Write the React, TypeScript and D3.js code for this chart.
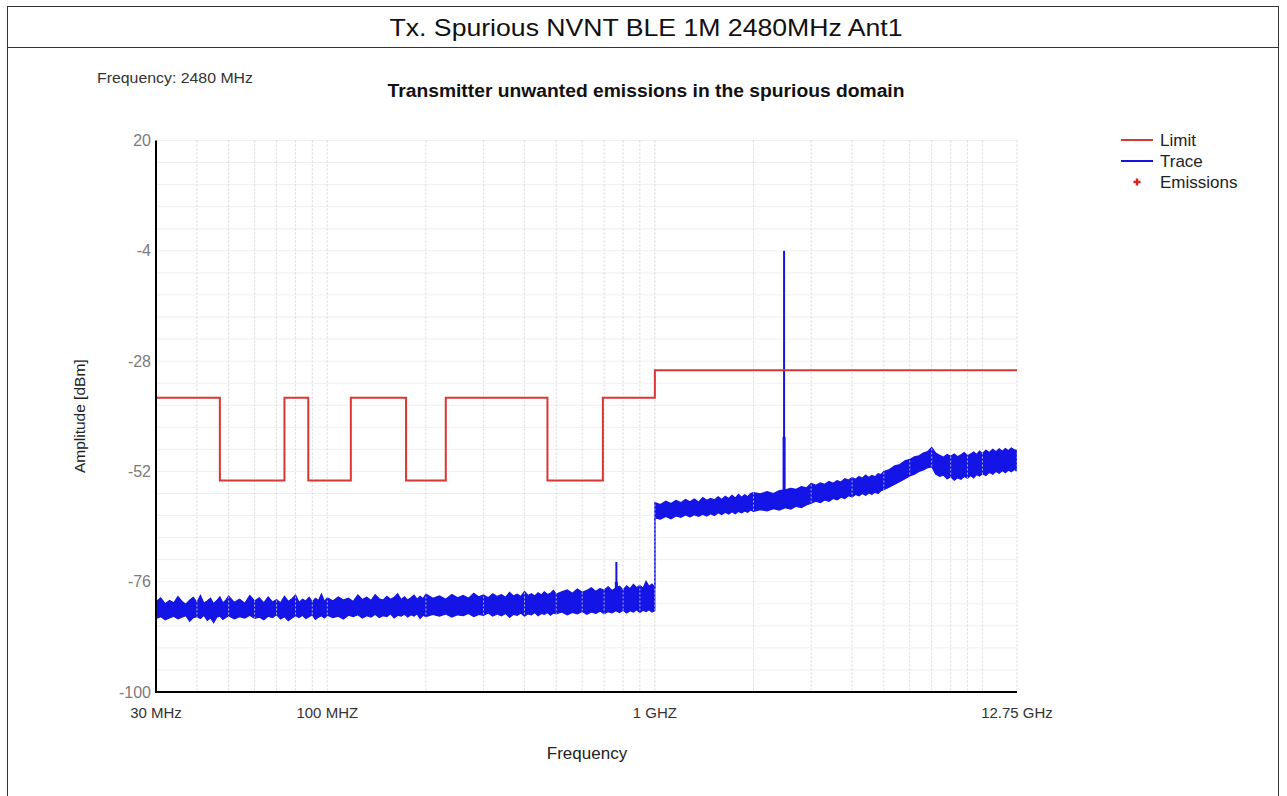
import React from 'react';
import * as d3 from 'd3';

const W = 1287;
const H = 796;

const pageTitle = 'Tx. Spurious NVNT BLE 1M 2480MHz Ant1';
const chartTitle = 'Transmitter unwanted emissions in the spurious domain';
const freqNote = 'Frequency: 2480 MHz';
const yAxisTitle = 'Amplitude [dBm]';
const xAxisTitle = 'Frequency';

const yTickValues = [20, -4, -28, -52, -76, -100];
const xTickValues = [30, 100, 1000, 12750];
const xTickLabels = ['30 MHz', '100 MHZ', '1 GHZ', '12.75 GHz'];
const gridFreqs = [40, 50, 60, 70, 80, 90, 100, 200, 300, 400, 500, 600, 700, 800, 900, 1000,
  2000, 3000, 4000, 5000, 6000, 7000, 8000, 9000, 10000, 12750];

// limit: start MHz, end MHz, level dBm
const limitStart = [30, 47, 74, 87.5, 118, 174, 230, 470, 694, 1000];
const limitEnd = [47, 74, 87.5, 118, 174, 230, 470, 694, 1000, 12750];
const limitLevel = [-36, -54, -36, -54, -36, -54, -36, -54, -36, -30];

// trace envelope: [MHz, min dBm, max dBm]
const lowBandTrace: [number, number, number][] = [
  [30, -84.0, -80.4], [31, -83.6, -79.5], [32, -84.3, -80.8], [33, -83.9, -80.1], [34, -83.5, -80.6],
  [35, -84.1, -79.2], [36, -83.7, -80.3], [37, -83.4, -80.9], [38, -84.6, -80.0], [39, -83.8, -79.4],
  [40, -83.6, -80.5], [41, -84.0, -79.0], [42, -83.3, -80.7], [43, -84.4, -80.2], [44, -83.9, -79.6],
  [45, -84.9, -80.8], [46, -83.7, -80.1], [47, -83.5, -79.3], [48, -84.2, -80.6], [49, -83.8, -80.0],
  [50, -83.4, -79.1], [52, -84.1, -80.5], [54, -83.6, -79.8], [56, -83.9, -80.7], [58, -83.3, -79.0],
  [60, -84.0, -80.2], [62, -83.7, -79.5], [64, -84.3, -80.6], [66, -83.5, -79.3], [68, -83.8, -80.4],
  [70, -83.2, -79.9], [72, -84.1, -80.6], [74, -83.6, -79.2], [76, -84.5, -80.3], [78, -83.9, -79.7],
  [80, -83.4, -78.9], [82, -83.8, -80.5], [84, -83.3, -79.8], [86, -84.0, -80.2], [88, -83.6, -79.4],
  [90, -83.2, -80.4], [92, -84.2, -79.6], [94, -83.7, -80.1], [96, -83.4, -78.7], [98, -83.9, -80.3],
  [100, -83.3, -79.5], [104, -83.8, -80.2], [108, -83.5, -79.3], [112, -84.1, -80.0], [116, -83.3, -79.6],
  [120, -83.6, -80.3], [124, -83.2, -78.9], [128, -83.9, -79.9], [132, -83.4, -79.4], [136, -83.7, -80.1],
  [140, -83.1, -78.8], [144, -83.8, -79.7], [148, -83.4, -80.0], [152, -83.6, -79.2], [156, -83.0, -79.8],
  [160, -83.9, -79.4], [164, -83.3, -78.6], [168, -83.5, -79.9], [172, -83.1, -79.3], [176, -83.7, -80.0],
  [180, -83.2, -79.5], [184, -83.5, -78.9], [188, -83.0, -79.8], [192, -84.0, -79.2], [196, -83.3, -79.7],
  [200, -83.6, -78.7], [210, -83.1, -79.6], [220, -83.5, -79.1], [230, -83.0, -79.8], [240, -83.7, -78.8],
  [250, -83.2, -79.5], [260, -83.4, -79.0], [270, -82.9, -79.6], [280, -83.6, -78.5], [290, -83.1, -79.3],
  [300, -83.3, -78.9], [310, -82.8, -79.5], [320, -83.5, -78.6], [330, -83.0, -79.2], [340, -83.4, -78.8],
  [350, -82.9, -79.4], [360, -83.8, -78.3], [370, -83.1, -79.1], [380, -83.3, -78.7], [390, -82.8, -79.2],
  [400, -83.5, -78.1], [410, -83.0, -79.0], [420, -83.2, -78.6], [430, -82.7, -79.1], [440, -83.4, -78.4],
  [450, -82.9, -78.9], [460, -83.1, -78.2], [470, -82.7, -78.8], [480, -83.3, -78.5], [490, -82.8, -77.9],
  [500, -83.0, -78.7], [520, -82.6, -78.2], [540, -83.2, -77.8], [560, -82.7, -78.5], [580, -83.0, -77.6],
  [600, -82.5, -78.3], [620, -83.1, -77.9], [640, -82.6, -77.3], [660, -82.9, -78.1], [680, -82.4, -77.5],
  [700, -83.0, -77.8], [720, -82.5, -77.1], [740, -82.8, -77.9], [760, -82.3, -77.4], [780, -82.7, -77.0],
  [800, -82.2, -77.8], [820, -82.8, -76.9], [840, -82.3, -77.5], [860, -82.6, -76.6], [880, -82.1, -77.3],
  [900, -82.7, -76.8], [920, -82.2, -77.4], [940, -82.5, -75.9], [960, -82.1, -77.0], [980, -82.6, -76.5],
  [1000, -82.3, -77.2],
];

const highBandTrace: [number, number, number][] = [
  [1000, -62.1, -58.8], [1040, -62.4, -59.2], [1080, -61.8, -58.5], [1120, -62.3, -59.0], [1160, -61.7, -58.3],
  [1200, -62.0, -58.8], [1240, -61.5, -58.1], [1280, -61.9, -58.6], [1320, -61.4, -58.0], [1360, -61.8, -58.7],
  [1400, -61.3, -57.7], [1440, -61.7, -58.3], [1480, -61.2, -57.9], [1520, -61.6, -58.2], [1560, -61.0, -57.5],
  [1600, -61.4, -58.1], [1640, -60.9, -57.4], [1680, -61.3, -57.9], [1720, -60.8, -57.2], [1760, -61.2, -57.8],
  [1800, -60.7, -57.0], [1840, -61.0, -57.6], [1880, -60.6, -57.1], [1920, -60.9, -57.5], [1960, -60.4, -56.8],
  [2000, -60.7, -56.6], [2100, -60.3, -56.9], [2200, -60.6, -56.4], [2300, -60.1, -56.8], [2400, -60.4, -56.2],
  [2500, -59.9, -56.0], [2600, -60.2, -55.7], [2700, -59.6, -55.9], [2800, -59.9, -55.3], [2900, -59.3, -55.6],
  [3000, -58.9, -54.6], [3100, -58.5, -55.0], [3200, -58.8, -54.5], [3300, -58.2, -54.8], [3400, -58.5, -54.2],
  [3500, -57.9, -54.6], [3600, -58.2, -54.0], [3700, -57.6, -54.3], [3800, -57.9, -53.6], [3900, -57.3, -53.9],
  [4000, -57.6, -53.3], [4100, -57.0, -53.7], [4200, -57.3, -53.1], [4300, -56.8, -53.5], [4400, -57.2, -52.8],
  [4500, -56.7, -53.3], [4600, -57.0, -52.9], [4700, -56.5, -53.2], [4800, -56.8, -52.5], [4900, -56.2, -52.7],
  [5000, -56.0, -52.0], [5200, -55.4, -51.6], [5400, -54.8, -50.8], [5600, -54.2, -50.5], [5800, -53.6, -49.7],
  [6000, -53.0, -49.4], [6200, -52.6, -48.8], [6400, -52.0, -48.6], [6600, -51.7, -48.0], [6800, -51.2, -47.7],
  [7000, -51.0, -46.8], [7200, -52.6, -48.0], [7400, -53.1, -48.5], [7600, -52.8, -48.9], [7800, -53.6, -48.3],
  [8000, -53.2, -48.7], [8200, -53.9, -48.2], [8400, -53.4, -48.8], [8600, -53.7, -48.4], [8800, -53.1, -47.9],
  [9000, -53.5, -48.6], [9200, -52.9, -48.2], [9400, -53.4, -47.8], [9600, -52.7, -48.3], [9800, -53.0, -47.6],
  [10000, -52.5, -48.1], [10250, -52.9, -47.4], [10500, -52.2, -47.9], [10750, -52.6, -47.2], [11000, -52.0, -47.7],
  [11250, -52.4, -47.1], [11500, -51.8, -47.6], [11750, -52.3, -47.0], [12000, -51.7, -47.5], [12250, -52.1, -46.9],
  [12500, -51.6, -47.3], [12750, -51.9, -47.4],
];

// narrow spikes: MHz, base dBm, shoulder dBm (wider part), top dBm
const spikeFreq = [763, 2480];
const spikeBase = [-79.0, -57.5];
const spikeShoulder = [-76.0, -44.5];
const spikeTop = [-71.7, -4];

const legendNames = ['Limit', 'Trace', 'Emissions'];
const limitColor = '#d93636';
const traceColor = '#1414e6';

const FONT = '"Liberation Sans", Arial, sans-serif';

export default function App() {
  const x = d3.scaleLog().domain([30, 12750]).range([156, 1017]);
  const y = d3.scaleLinear().domain([-100, 20]).range([692, 140.5]);

  const hGrid = d3.range(20, -100.01, -4.8);

  const limitPts: [number, number][] = [];
  limitStart.forEach((s, i) => {
    limitPts.push([s, limitLevel[i]]);
    limitPts.push([limitEnd[i], limitLevel[i]]);
  });
  const limitLine = d3.line<[number, number]>().x(d => x(d[0])).y(d => y(d[1]));

  const trace = [...lowBandTrace, ...highBandTrace];
  const area = d3.area<[number, number, number]>()
    .x(d => x(d[0])).y0(d => y(d[1])).y1(d => y(d[2]));
  const hiLine = d3.line<[number, number, number]>().x(d => x(d[0])).y(d => y(d[2]));
  const loLine = d3.line<[number, number, number]>().x(d => x(d[0])).y(d => y(d[1]));

  return (
    <svg width={W} height={H} style={{ position: 'absolute', left: 0, top: 0, background: '#fff' }}
      fontFamily={FONT}>
      {/* outer frame */}
      <rect x={7.5} y={6.5} width={1271} height={H + 10} fill="none" stroke="#333" strokeWidth={1} />
      <line x1={7.5} x2={1278.5} y1={47.5} y2={47.5} stroke="#333" strokeWidth={1} />
      <text x={646} y={36} textAnchor="middle" fontSize={24} fill="#111" textLength={513}
        lengthAdjust="spacingAndGlyphs">{pageTitle}</text>

      <text x={97} y={83} fontSize={15} fill="#333" textLength={156} lengthAdjust="spacingAndGlyphs">{freqNote}</text>
      <text x={646} y={97} textAnchor="middle" fontSize={18} fontWeight="bold" fill="#111" textLength={517}
        lengthAdjust="spacingAndGlyphs">{chartTitle}</text>

      {/* horizontal grid */}
      {hGrid.map((v, i) => (
        <line key={'h' + i} x1={x(30)} x2={x(12750)} y1={y(v)} y2={y(v)} stroke="#efefef" strokeWidth={1} />
      ))}

      {/* trace */}
      <path d={area(trace) || ''} fill={traceColor} stroke="none" />
      <path d={hiLine(trace) || ''} fill="none" stroke={traceColor} strokeWidth={1.2} />
      <path d={loLine(trace) || ''} fill="none" stroke={traceColor} strokeWidth={1.2} />
      {spikeFreq.map((f, i) => (
        <g key={'s' + i}>
          <line x1={x(f)} x2={x(f)} y1={y(spikeBase[i])} y2={y(spikeTop[i])}
            stroke={traceColor} strokeWidth={2} />
          <line x1={x(f)} x2={x(f)} y1={y(spikeBase[i])} y2={y(spikeShoulder[i])}
            stroke={traceColor} strokeWidth={3} />
        </g>
      ))}

      {/* vertical grid (drawn over trace) */}
      {gridFreqs.map((f, i) => (
        <line key={'v' + i} x1={x(f)} x2={x(f)} y1={y(20)} y2={y(-100)} stroke="#d2d2da"
          strokeWidth={1} strokeDasharray="2,2" opacity={0.85} />
      ))}

      {/* limit */}
      <path d={limitLine(limitPts) || ''} fill="none" stroke={limitColor} strokeWidth={2} />

      {/* axes */}
      <line x1={x(30)} x2={x(30)} y1={y(20)} y2={y(-100) + 1} stroke="#000" strokeWidth={2} />
      <line x1={x(30) - 1} x2={x(12750)} y1={y(-100)} y2={y(-100)} stroke="#000" strokeWidth={2} />

      {yTickValues.map((v, i) => (
        <text key={'yt' + i} x={151} y={y(v)} dy="0.35em" textAnchor="end" fontSize={16} fill="#7c7c7c">{v}</text>
      ))}
      {xTickValues.map((f, i) => (
        <text key={'xt' + i} x={x(f)} y={718} textAnchor="middle" fontSize={15} fill="#333">{xTickLabels[i]}</text>
      ))}

      <text x={587} y={759} textAnchor="middle" fontSize={17} fill="#222">{xAxisTitle}</text>
      <text transform={`translate(85,${(y(20) + y(-100)) / 2}) rotate(-90)`} textAnchor="middle"
        fontSize={15.5} fill="#222">{yAxisTitle}</text>

      {/* legend */}
      {legendNames.map((n, i) => {
        const ly = 140 + i * 21;
        return (
          <g key={'lg' + i}>
            {i === 0 && <line x1={1121} x2={1153} y1={ly} y2={ly} stroke={limitColor} strokeWidth={2} />}
            {i === 1 && <line x1={1121} x2={1153} y1={ly} y2={ly} stroke={traceColor} strokeWidth={2} />}
            {i === 2 && (
              <path d={d3.symbol().type(d3.symbolCross).size(28)() || ''}
                transform={`translate(1137,${ly})`} fill="#e02020" />
            )}
            <text x={1160} y={ly} dy="0.35em" fontSize={17} fill="#222">{n}</text>
          </g>
        );
      })}
    </svg>
  );
}
